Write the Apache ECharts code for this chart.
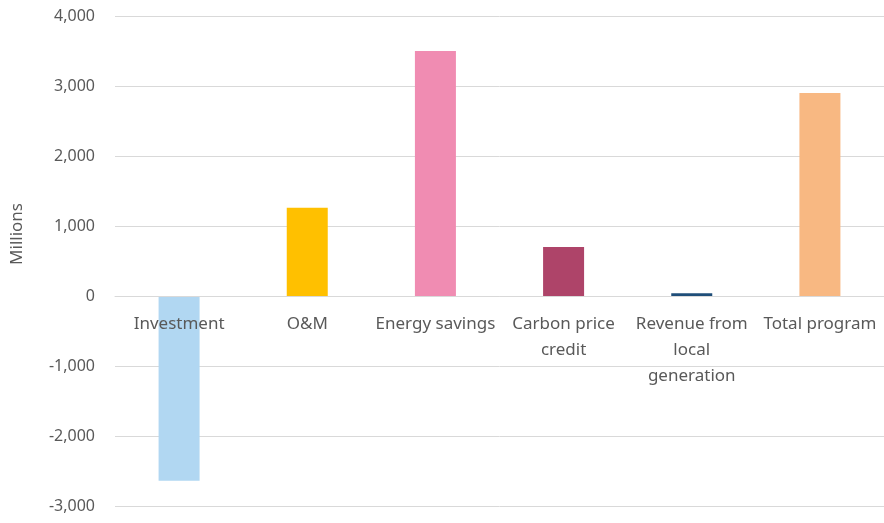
<!DOCTYPE html>
<html>
<head>
<meta charset="utf-8">
<script src="https://cdn.jsdelivr.net/npm/echarts@6/dist/echarts.min.js"></script>
<style>
  html, body { margin: 0; padding: 0; background: #fff; }
  #chart { width: 884px; height: 523px; }
</style>
</head>
<body>
<div id="chart"></div>
<script>
const categories = ['Investment', 'O&M', 'Energy savings', 'Carbon price\ncredit', 'Revenue from\nlocal\ngeneration', 'Total program']
const values = [-2640, 1260, 3500, 700, 40, 2900]
const barColors = ['#b1d7f2', '#ffc000', '#f08cb2', '#ae4469', '#1f4e79', '#f8b882']
const yMin = -3000
const yMax = 4000

const textColor = '#595959'
const fontFamily = '"Noto Sans", sans-serif'

const gridTop = 16
const gridBottom = 17
const plotHeight = 523 - gridTop - gridBottom
// shift the category axis up from the bottom to the zero line
const zeroOffset = -plotHeight * (0 - yMin) / (yMax - yMin)

const chart = echarts.init(document.getElementById('chart'))

const option = {
  animation: false,
  grid: { left: 115, right: 0, top: gridTop, bottom: gridBottom, containLabel: false, outerBoundsMode: 'none' },
  graphic: [
    {
      type: 'text',
      left: 9,
      top: 203,
      rotation: Math.PI / 2,
      style: { text: 'Millions', fill: textColor, font: '17px ' + fontFamily }
    }
  ],
  xAxis: {
    type: 'category',
    data: categories,
    position: 'bottom',
    offset: zeroOffset,
    z: 5,
    axisLine: { onZero: false, lineStyle: { color: '#d9d9d9', width: 1 } },
    axisTick: { show: false },
    axisLabel: {
      interval: 0,
      color: textColor,
      fontFamily: fontFamily,
      fontSize: 17,
      lineHeight: 26,
      margin: 15
    }
  },
  yAxis: {
    type: 'value',
    min: yMin,
    max: yMax,
    interval: 1000,
    axisLine: { show: false },
    axisTick: { show: false },
    splitLine: { lineStyle: { color: '#d9d9d9', width: 1 } },
    axisLabel: {
      color: textColor,
      fontFamily: fontFamily,
      fontSize: 16,
      margin: 20,
      formatter: v => v.toLocaleString('en-US')
    }
  },
  series: [
    {
      type: 'bar',
      barWidth: 41,
      data: values.map((v, i) => ({ value: v, itemStyle: { color: barColors[i] } }))
    }
  ]
}

chart.setOption(option)
</script>
</body>
</html>
